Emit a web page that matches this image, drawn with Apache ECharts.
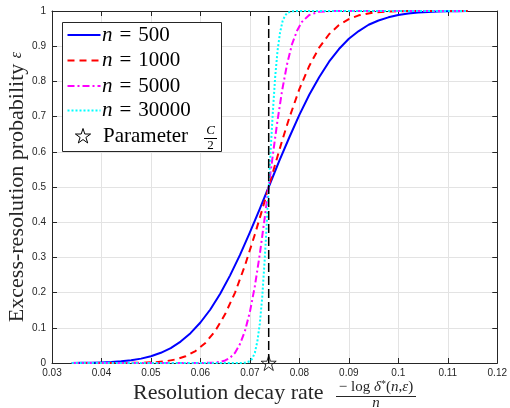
<!DOCTYPE html>
<html><head><meta charset="utf-8">
<script src="https://cdn.jsdelivr.net/npm/echarts@6/dist/echarts.min.js"></script>
<style>html,body{margin:0;padding:0;background:#fff}#c{width:510px;height:408px}</style>
</head><body><div id="c"></div>
<script>
// ---- data ----
const seriesNames = ['n = 500', 'n = 1000', 'n = 5000', 'n = 30000'];
const nValues = ['500', '1000', '5000', '30000'];
const x500 = [0.034,0.036,0.038,0.040,0.042,0.044,0.046,0.048,0.050,0.052,0.054,0.056,0.058,0.060,0.062,0.064,0.066,0.068,0.070,0.072,0.0738,0.076,0.078,0.080,0.082,0.084,0.086,0.088,0.090,0.092,0.094,0.096,0.098,0.100,0.102,0.104,0.106,0.108,0.110,0.112,0.114];
const y500 = [0.0003,0.0005,0.0009,0.0016,0.0028,0.0048,0.0078,0.0124,0.0192,0.029,0.0425,0.0608,0.0847,0.115,0.152,0.197,0.249,0.307,0.371,0.438,0.5,0.576,0.642,0.705,0.762,0.812,0.856,0.892,0.921,0.943,0.961,0.973,0.982,0.9886,0.9929,0.9957,0.9974,0.9985,0.9992,0.9996,0.9998];
const x1000 = [0.034,0.040,0.045,0.048,0.051,0.053,0.055,0.057,0.059,0.061,0.063,0.065,0.067,0.069,0.071,0.0725,0.0738,0.075,0.0765,0.078,0.080,0.082,0.084,0.086,0.088,0.090,0.092,0.095,0.098,0.102,0.108,0.114];
const y1000 = [0,0.00002,0.0002,0.0007,0.0024,0.0051,0.0101,0.019,0.0339,0.057,0.0912,0.139,0.200,0.277,0.365,0.436,0.5,0.559,0.631,0.698,0.778,0.844,0.896,0.934,0.960,0.977,0.9877,0.9956,0.9986,0.99975,1,1];
const x5000 = [0.034,0.055,0.060,0.062,0.063,0.064,0.065,0.066,0.067,0.068,0.069,0.070,0.071,0.072,0.073,0.0738,0.0746,0.0755,0.0765,0.0775,0.0785,0.0795,0.0805,0.082,0.084,0.086,0.090,0.114];
const y5000 = [0,0,0.0001,0.0005,0.0013,0.0033,0.0073,0.015,0.029,0.054,0.091,0.145,0.218,0.309,0.413,0.5,0.587,0.681,0.773,0.848,0.905,0.943,0.969,0.9887,0.9977,0.9997,1,1];
const x30000 = [0.034,0.066,0.068,0.069,0.070,0.0705,0.0710,0.0715,0.0720,0.0725,0.0730,0.0734,0.0738,0.0742,0.0746,0.0751,0.0756,0.0761,0.0766,0.0771,0.0776,0.0785,0.080,0.114];
const y30000 = [0,0,0,0.0006,0.0051,0.013,0.029,0.061,0.111,0.189,0.295,0.394,0.5,0.606,0.705,0.811,0.889,0.939,0.971,0.987,0.995,0.9993,1,1];
const paramX = 0.0738;   // C/2
const paramY = 0;
const vlineY = [0, 1];
const xMin = 0.03, xMax = 0.12, xStep = 0.01;
const yMin = 0, yMax = 1, yStep = 0.1;

// ---- styles ----
const colors = ['#0000ff', '#ff0000', '#ff00ff', '#00ffff'];
const dashes = ['solid', [7, 5], [7, 3, 2, 3], [2, 2]];
const widths = [2, 2, 2, 2];
const SERIF = '"Liberation Serif", "Times New Roman", serif';
const SANS = '"Liberation Sans", Arial, sans-serif';
const AX = '#262626';

function zip(xs, ys) { return xs.map((x, i) => [x, ys[i]]); }
const allX = [x500, x1000, x5000, x30000];
const allY = [y500, y1000, y5000, y30000];

function starPath() {
  let s = '';
  for (let k = 0; k < 10; k++) {
    const r = k % 2 ? 38.2 : 100;
    const a = -Math.PI / 2 + k * Math.PI / 5;
    s += (k ? 'L' : 'M') + (100 + r * Math.cos(a)).toFixed(2) + ',' + (100 + r * Math.sin(a)).toFixed(2);
  }
  return 'path://' + s + 'Z';
}
function starPts(cx, cy, R) {
  const pts = [];
  for (let k = 0; k < 10; k++) {
    const r = k % 2 ? R * 0.382 : R;
    const a = -Math.PI / 2 + k * Math.PI / 5;
    pts.push([cx + r * Math.cos(a), cy + r * Math.sin(a)]);
  }
  return pts;
}

const fmt = v => String(Number(v.toFixed(2)));

const series = allX.map((xs, i) => ({
  name: seriesNames[i], type: 'line', data: zip(xs, allY[i]),
  showSymbol: false, symbol: 'none', smooth: false, clip: false,
  lineStyle: { color: colors[i], width: widths[i], type: dashes[i], join: 'round' },
  z: 3 + i, animation: false
}));
series.push({
  type: 'line', data: vlineY.map(y => [paramX, y]), symbol: 'none', clip: false,
  lineStyle: { color: '#000', width: 1.5, type: [9, 4] }, z: 8, animation: false
});
series.push({
  type: 'scatter', data: [[paramX, paramY]], symbol: starPath(), symbolSize: 15, clip: false,
  itemStyle: { color: 'rgba(255,255,255,0)', borderColor: '#000', borderWidth: 1 }, z: 9, animation: false
});

// ---- legend (graphic) ----
const legRows = [35, 60.5, 86, 110.5];
const legend = [];
legend.push({ type: 'rect', shape: { x: 62.5, y: 22.5, width: 159, height: 129 },
  style: { fill: '#fff', stroke: AX, lineWidth: 1 }, z: 100 });
legRows.forEach((y, i) => {
  legend.push({ type: 'line', shape: { x1: 67.5, y1: y, x2: 100.5, y2: y },
    style: { stroke: colors[i], lineWidth: widths[i], lineDash: dashes[i] === 'solid' ? null : dashes[i] }, z: 101 });
  legend.push({ type: 'text', x: 102, y: y, z: 101,
    style: { text: '{i|n}{r|\u2004=\u2004' + nValues[i] + '}', align: 'left', verticalAlign: 'middle',
      rich: { i: { fontFamily: SERIF, fontSize: 21, fontStyle: 'italic', fill: '#000' },
              r: { fontFamily: SERIF, fontSize: 21, fill: '#000' } } } });
});
legend.push({ type: 'polygon', shape: { points: starPts(83, 136.5, 8) },
  style: { fill: 'none', stroke: '#000', lineWidth: 1 }, z: 101 });
legend.push({ type: 'text', x: 103, y: 136.5, z: 101,
  style: { text: 'Parameter', fontFamily: SERIF, fontSize: 21, fill: '#000', align: 'left', verticalAlign: 'middle' } });
legend.push({ type: 'text', x: 210.5, y: 130.5, z: 101,
  style: { text: 'C', fontFamily: SERIF, fontSize: 13, fontStyle: 'italic', fill: '#000', align: 'center', verticalAlign: 'middle' } });
legend.push({ type: 'line', shape: { x1: 204, y1: 138.5, x2: 217, y2: 138.5 }, style: { stroke: '#000', lineWidth: 1 }, z: 101 });
legend.push({ type: 'text', x: 210.5, y: 145.5, z: 101,
  style: { text: '2', fontFamily: SERIF, fontSize: 13, fill: '#000', align: 'center', verticalAlign: 'middle' } });

// ---- axis titles (graphic) ----
const titles = [];
titles.push({ type: 'text', x: 17, y: 187, rotation: Math.PI / 2, z: 50,
  style: { text: '{r|Excess-resolution probability }{i|ε}', align: 'center', verticalAlign: 'middle',
    rich: { r: { fontFamily: SERIF, fontSize: 22, fill: AX }, i: { fontFamily: SERIF, fontSize: 16, fontStyle: 'italic', fill: AX } } } });
titles.push({ type: 'text', x: 133, y: 393, z: 50,
  style: { text: 'Resolution decay rate', fontFamily: SERIF, fontSize: 22, fill: AX, align: 'left', verticalAlign: 'middle' } });
titles.push({ type: 'text', x: 376, y: 387, z: 50,
  style: { text: '{r|− log }{i|δ}{s|*}{r|(}{i|n}{r|,}{i|ε}{r|)}', align: 'center', verticalAlign: 'middle',
    rich: { r: { fontFamily: SERIF, fontSize: 15, fill: AX }, i: { fontFamily: SERIF, fontSize: 15, fontStyle: 'italic', fill: AX },
            s: { fontFamily: SERIF, fontSize: 10, fill: AX, verticalAlign: 'top' } } } });
titles.push({ type: 'line', shape: { x1: 336, y1: 396.5, x2: 416, y2: 396.5 }, style: { stroke: AX, lineWidth: 1 }, z: 50 });
titles.push({ type: 'text', x: 376, y: 403, z: 50,
  style: { text: 'n', fontFamily: SERIF, fontSize: 15, fontStyle: 'italic', fill: AX, align: 'center', verticalAlign: 'middle' } });

const axLine = { show: true, onZero: false, lineStyle: { color: AX, width: 1 } };
const axTick = { show: true, inside: true, length: 5, lineStyle: { color: AX, width: 1 } };

const option = {
  animation: false,
  backgroundColor: '#fff',
  grid: { left: 52, right: 12, top: 11, bottom: 45, containLabel: false },
  xAxis: [
    { type: 'value', min: xMin, max: xMax, interval: xStep, position: 'bottom',
      axisLine: axLine, axisTick: axTick,
      axisLabel: { show: true, margin: 5, formatter: fmt, color: AX, fontFamily: SANS, fontSize: 10 },
      splitLine: { show: true, lineStyle: { color: '#e3e3e3', width: 1 } } },
    { type: 'value', min: xMin, max: xMax, interval: xStep, position: 'top',
      axisLine: axLine, axisTick: axTick, axisLabel: { show: false }, splitLine: { show: false } }
  ],
  yAxis: [
    { type: 'value', min: yMin, max: yMax, interval: yStep, position: 'left',
      axisLine: axLine, axisTick: axTick,
      axisLabel: { show: true, margin: 6, formatter: fmt, color: AX, fontFamily: SANS, fontSize: 10 },
      splitLine: { show: true, lineStyle: { color: '#e3e3e3', width: 1 } } },
    { type: 'value', min: yMin, max: yMax, interval: yStep, position: 'right',
      axisLine: axLine, axisTick: axTick, axisLabel: { show: false }, splitLine: { show: false } }
  ],
  series: series,
  graphic: legend.concat(titles)
};
const chart = echarts.init(document.getElementById('c'), null, { renderer: 'canvas' });
chart.setOption(option);
</script></body></html>
